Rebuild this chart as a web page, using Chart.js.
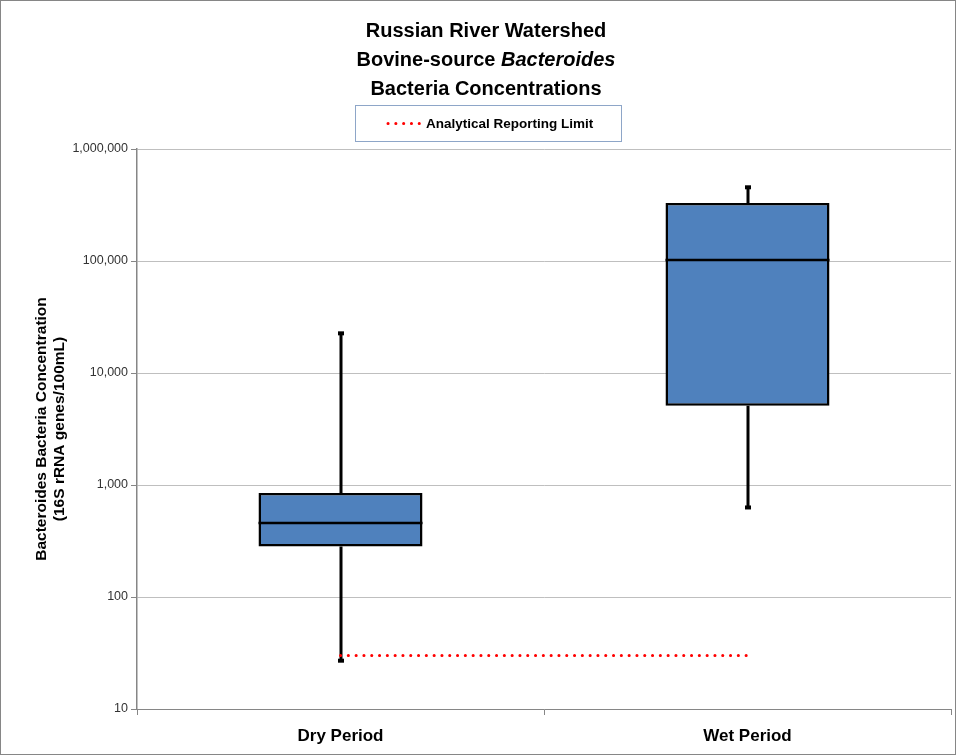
<!DOCTYPE html>
<html>
<head>
<meta charset="utf-8">
<script src="https://cdn.jsdelivr.net/npm/chart.js@4/dist/chart.umd.min.js"></script>
<style>
  html, body { margin: 0; padding: 0; background: #fff; }
  #wrap { width: 956px; height: 755px; position: relative; }
</style>
</head>
<body>
<div id="wrap"><canvas id="boxChart" width="956" height="755"></canvas></div>
<script>
// box statistics per sampling period
const periods = ['Dry Period', 'Wet Period'];
const whiskerLow = [27, 630];
const quartile1 = [282, 5100];
const medians = [458, 102000];
const quartile3 = [850, 330000];
const whiskerHigh = [22600, 455000];
const reportingLimit = [30, 30];
const yTicks = [10, 100, 1000, 10000, 100000, 1000000];

const FONT = "'Liberation Sans Narrow', 'Liberation Sans', Arial, sans-serif";

// three-line title, second line partly italic
const titlePlugin = {
  id: 'titlePlugin',
  afterDraw(chart) {
    const ctx = chart.ctx;
    const cx = 486;
    const lines = [
      [['Russian River Watershed', 'bold']],
      [['Bovine-source ', 'bold'], ['Bacteroides', 'italic bold']],
      [['Bacteria Concentrations', 'bold']]
    ];
    ctx.save();
    ctx.fillStyle = '#000';
    ctx.textBaseline = 'alphabetic';
    lines.forEach((parts, li) => {
      let total = 0;
      parts.forEach(p => { ctx.font = p[1] + ' 20px ' + FONT; total += ctx.measureText(p[0]).width; });
      let x = cx - total / 2;
      const y = 37 + li * 29;
      parts.forEach(p => {
        ctx.font = p[1] + ' 20px ' + FONT;
        ctx.textAlign = 'left';
        ctx.fillText(p[0], x, y);
        x += ctx.measureText(p[0]).width;
      });
    });
    ctx.restore();
  }
};

// framed legend for the reporting-limit line
const legendBox = {
  id: 'legendBox',
  afterDraw(chart) {
    const ctx = chart.ctx;
    const ds = chart.data.datasets[1];
    ctx.save();
    ctx.strokeStyle = '#8EA6C8';
    ctx.lineWidth = 1;
    ctx.strokeRect(355.5, 105.5, 266, 36);
    ctx.strokeStyle = ds.borderColor;
    ctx.lineWidth = 3;
    ctx.lineCap = 'round';
    ctx.setLineDash(ds.borderDash);
    ctx.beginPath();
    ctx.moveTo(388, 123.5);
    ctx.lineTo(420, 123.5);
    ctx.stroke();
    ctx.setLineDash([]);
    ctx.fillStyle = '#000';
    ctx.font = 'bold 13.5px ' + FONT;
    ctx.textBaseline = 'middle';
    ctx.fillText(ds.label, 426, 124);
    // outer frame
    ctx.strokeStyle = '#868686';
    ctx.lineWidth = 1;
    ctx.strokeRect(0.5, 0.5, 955, 754);
    ctx.restore();
  }
};

// whiskers, caps and medians on top of the floating bars
const boxPlot = {
  id: 'boxPlot',
  beforeDatasetsDraw(chart) {
    const ctx = chart.ctx;
    const y = chart.scales.y;
    const meta = chart.getDatasetMeta(0);
    ctx.save();
    ctx.strokeStyle = '#000';
    ctx.fillStyle = '#000';
    ctx.lineWidth = 3;
    meta.data.forEach((bar, i) => {
      const x = Math.round(bar.x);
      const hi = y.getPixelForValue(whiskerHigh[i]);
      const lo = y.getPixelForValue(whiskerLow[i]);
      ctx.beginPath();
      ctx.moveTo(x, hi);
      ctx.lineTo(x, y.getPixelForValue(quartile3[i]));
      ctx.moveTo(x, y.getPixelForValue(quartile1[i]));
      ctx.lineTo(x, lo);
      ctx.stroke();
      ctx.fillRect(x - 3, hi - 2, 6, 4);
      ctx.fillRect(x - 3, lo - 2, 6, 4);
    });
    ctx.restore();
  },
  afterDatasetDraw(chart, args) {
    if (args.index !== 0) return;
    const ctx = chart.ctx;
    const y = chart.scales.y;
    ctx.save();
    ctx.strokeStyle = '#000';
    ctx.lineWidth = 2.5;
    args.meta.data.forEach((bar, i) => {
      const my = y.getPixelForValue(medians[i]);
      ctx.beginPath();
      ctx.moveTo(bar.x - bar.width / 2, my);
      ctx.lineTo(bar.x + bar.width / 2, my);
      ctx.stroke();
    });
    ctx.restore();
  }
};

const ctx = document.getElementById('boxChart').getContext('2d');
new Chart(ctx, {
  data: {
    labels: periods,
    datasets: [{
      type: 'bar',
      label: 'Interquartile Range',
      data: periods.map((p, i) => [quartile1[i], quartile3[i]]),
      backgroundColor: '#4F81BD',
      borderColor: '#000',
      borderWidth: 2.5,
      borderSkipped: false,
      barPercentage: 0.403,
      categoryPercentage: 1,
      order: 1
    }, {
      type: 'line',
      label: 'Analytical Reporting Limit',
      data: reportingLimit,
      borderColor: '#FF0000',
      borderWidth: 3,
      borderDash: [0.1, 7.7],
      borderCapStyle: 'round',
      pointRadius: 0,
      fill: false,
      order: 0
    }]
  },
  options: {
    responsive: false,
    animation: false,
    layout: { padding: { top: 149, right: 5, bottom: 0, left: 0 } },
    plugins: {
      legend: { display: false },
      title: { display: false },
      tooltip: { enabled: false }
    },
    scales: {
      x: {
        type: 'category',
        offset: true,
        grid: { drawOnChartArea: false, drawTicks: true, tickLength: 6, color: '#868686', offset: true },
        border: { color: '#868686', width: 1 },
        ticks: { color: '#000', font: { family: FONT, size: 17, weight: 'bold' }, padding: 11 },
        afterFit(scale) { scale.height = 46; }
      },
      y: {
        type: 'logarithmic',
        min: 10,
        max: 1000000,
        afterBuildTicks(scale) { scale.ticks = yTicks.map(v => ({ value: v })); },
        afterFit(scale) { scale.width = 137; },
        grid: { color: '#BFBFBF', tickLength: 6, tickColor: '#868686' },
        border: { color: '#868686', width: 1.5 },
        ticks: {
          color: '#333',
          font: { family: FONT, size: 12.5 },
          padding: 3,
          callback: v => Number(v).toLocaleString('en-US')
        },
        title: {
          display: true,
          text: ['Bacteroides Bacteria Concentration', '(16S rRNA genes/100mL)'],
          color: '#000',
          font: { family: FONT, size: 15.5, weight: 'bold' },
          padding: { top: 32, bottom: 0 }
        }
      }
    }
  },
  plugins: [boxPlot, titlePlugin, legendBox]
});
</script>
</body>
</html>
